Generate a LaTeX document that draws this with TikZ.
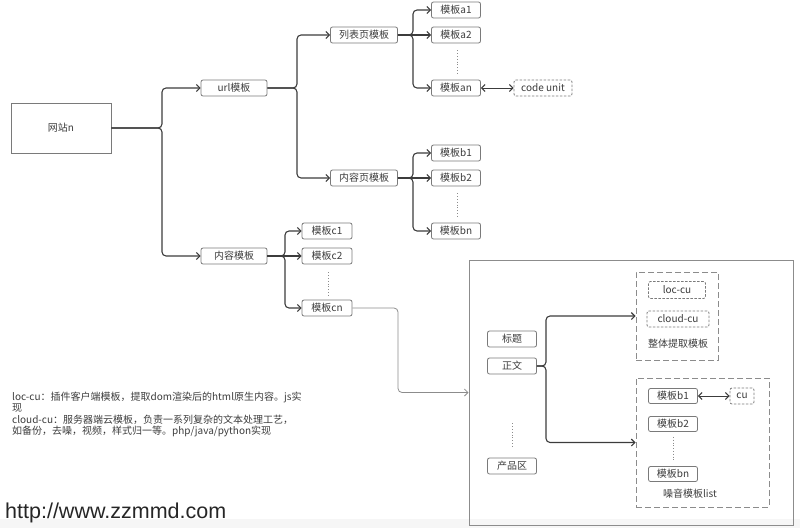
\documentclass[tikz,border=0pt]{standalone}
\usepackage{fontspec}
\setmainfont{Noto Sans CJK SC}
\newfontfamily\urlfont{Liberation Sans}
\usetikzlibrary{arrows.meta,positioning,calc}
\definecolor{ink}{HTML}{3C3C3C}
\definecolor{edge}{HTML}{7A7A7A}
\definecolor{soft}{HTML}{8C8C8C}
\tikzset{
  tplbox/.style={draw=edge,fill=white,line width=0.8pt,rounded corners=2pt,
                 inner sep=0pt,minimum height=16pt,text=ink,
                 font=\fontsize{10}{12}\selectfont},
  dashbox/.style={tplbox,dash pattern=on 2.5pt off 1.5pt},
  groupbox/.style={draw=soft,line width=0.9pt,dash pattern=on 6pt off 3pt,
                   inner sep=0pt},
  panelbox/.style={draw=soft,line width=1pt,inner sep=0pt},
  grouplabel/.style={text=ink,font=\fontsize{10}{12}\selectfont,inner sep=0pt},
  branch/.style={-{Straight Barb[length=3.5pt,width=7pt]},line width=1.1pt,
                 draw=ink,rounded corners=4pt},
  feed/.style={-{Straight Barb[length=3.5pt,width=7pt]},line width=0.8pt,
               draw=soft,rounded corners=4pt},
  twoway/.style={{Straight Barb[length=3.5pt,width=7pt]}-{Straight Barb[length=3.5pt,width=7pt]},
                 line width=1pt,draw=ink},
  gap/.style={draw=soft,dotted,line width=0.8pt}
}

\begin{document}
\begin{tikzpicture}[x=1pt,y=-1pt]
    \path[use as bounding box] (0,0) rectangle (800,528);
    \fill[gray!7] (0,519) rectangle (800,528);
    % site and first split
    \node[tplbox,rounded corners=0pt,minimum width=100pt,minimum height=50pt] (site) at (61,128) {网站n};
    \node[tplbox,minimum width=66pt] (urltpl) at (234,88) {url模板};
    \node[tplbox,minimum width=66pt] (contenttpl) at (234,256) {内容模板};
    \coordinate (j1) at (162,128);
    \draw[branch] (site.east) -- (j1) |- (urltpl.west);
    \draw[branch] (site.east) -- (j1) |- (contenttpl.west);
    % url templates
    \node[tplbox,minimum width=67pt] (listtpl) at (364,35) {列表页模板};
    \node[tplbox,minimum width=67pt] (pagetpl) at (364,178) {内容页模板};
    \coordinate (j2) at (297,88);
    \draw[branch] (urltpl.east) -- (j2) |- (listtpl.west);
    \draw[branch] (urltpl.east) -- (j2) |- (pagetpl.west);
    \node[tplbox,minimum width=49pt] (a1) at (456,10) {模板a1};
    \node[tplbox,minimum width=49pt] (a2) at (456,35) {模板a2};
    \node[tplbox,minimum width=49pt] (an) at (456,88) {模板an};
    \coordinate (j3) at (413,35);
    \draw[branch] (listtpl.east) -- (j3) |- (a1.west);
    \draw[branch] (listtpl.east) -- (a2.west);
    \draw[branch] (listtpl.east) -- (j3) |- (an.west);
    \draw[gap] ($(a2.south)+(1,7)$) -- ($(an.north)+(1,-5)$);
    \node[dashbox,minimum width=58pt] (codeunit) at (543,88) {code unit};
    \draw[twoway] (an) -- (codeunit);
    \node[tplbox,minimum width=49pt] (b1) at (456,153) {模板b1};
    \node[tplbox,minimum width=49pt] (b2) at (456,178) {模板b2};
    \node[tplbox,minimum width=49pt] (bn) at (456,231) {模板bn};
    \coordinate (j4) at (413,178);
    \draw[branch] (pagetpl.east) -- (j4) |- (b1.west);
    \draw[branch] (pagetpl.east) -- (b2.west);
    \draw[branch] (pagetpl.east) -- (j4) |- (bn.west);
    \draw[gap] ($(b2.south)+(1,7)$) -- ($(bn.north)+(1,-5)$);
    % content templates
    \node[tplbox,minimum width=50pt] (c1) at (327,231) {模板c1};
    \node[tplbox,minimum width=50pt] (c2) at (327,256) {模板c2};
    \node[tplbox,minimum width=50pt] (cn) at (327,308) {模板cn};
    \coordinate (j5) at (285,256);
    \draw[branch] (contenttpl.east) -- (j5) |- (c1.west);
    \draw[branch] (contenttpl.east) -- (c2.west);
    \draw[branch] (contenttpl.east) -- (j5) |- (cn.west);
    \draw[gap] ($(c2.south)+(1,8)$) -- ($(cn.north)+(1,-4)$);
    % page panel
    \node[panelbox,minimum width=324pt,minimum height=265pt] (panel) at (631,392.5) {};
    \coordinate (drop) at (398,308);
    \draw[feed] (cn.east) -- (drop) |- (panel.west);
    \node[tplbox,minimum width=49pt] (title) at (512,339) {标题};
    \node[tplbox,minimum width=49pt] (body) at (512,366) {正文};
    \node[tplbox,minimum width=49pt] (product) at (512,466) {产品区};
    \draw[gap] ($(body.south)+(0,49)$) -- ($(product.north)+(0,-11)$);
    \node[groupbox,minimum width=82pt,minimum height=88pt] (wholebox) at (677,316) {};
    \node[dashbox,minimum width=57pt,minimum height=17pt] (loccu) at (677,290) {loc-cu};
    \node[dashbox,minimum width=62pt] (cloudcu) at (678,319) {cloud-cu};
    \node[grouplabel] (wholelabel) at (678,344) {整体提取模板};
    \node[groupbox,minimum width=133pt,minimum height=129pt] (noisebox) at (702.5,442.5) {};
    \node[tplbox,minimum width=49pt,minimum height=15pt] (nb1) at (673,396) {模板b1};
    \node[tplbox,minimum width=49pt,minimum height=15pt] (nb2) at (673,424) {模板b2};
    \node[tplbox,minimum width=49pt,minimum height=15pt] (nbn) at (673,474) {模板bn};
    \draw[gap] ($(nb2.south)+(0,5)$) -- ($(nbn.north)+(0,-6)$);
    \node[dashbox,minimum width=24pt] (cu) at (742,396) {cu};
    \draw[twoway] (nb1) -- (cu);
    \node[grouplabel] (noiselabel) at (690,494) {噪音模板list};
    \coordinate (j6) at (546,366);
    \draw[branch] (body.east) -- (j6) |- (wholebox.west);
    \draw[branch] (body.east) -- (j6) |- (noisebox.west);
    % notes and site address
    \node[anchor=north west,align=left,text=ink,inner sep=0pt,
          font=\fontsize{10}{11.3}\selectfont] (notes) at (12,392)
      {loc-cu：插件客户端模板，提取dom渲染后的html原生内容。js实\\
       现\\
       cloud-cu：服务器端云模板，负责一系列复杂的文本处理工艺，\\
       如备份，去噪，视频，样式归一等。php/java/python实现};
    \node[anchor=base west,inner sep=0pt,text=black!85,
          font=\urlfont\fontsize{21.5}{24}\selectfont] (site url) at (5,518) {http://www.zzmmd.com};
  \end{tikzpicture}
\end{document}
